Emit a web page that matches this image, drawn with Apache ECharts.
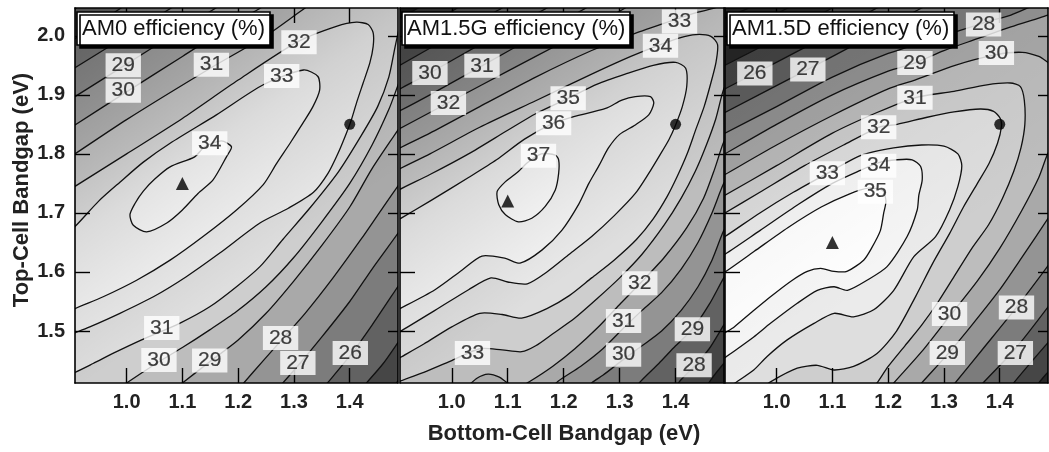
<!DOCTYPE html>
<html>
<head>
<meta charset="utf-8">
<script src="https://cdn.jsdelivr.net/npm/echarts@6/dist/echarts.min.js"></script>
<style>
  html, body { margin: 0; padding: 0; background: #fff; }
  #chart { width: 1049px; height: 452px; }
</style>
</head>
<body>
<div id="chart"></div>
<script>
// ---------- axes ----------
const xTicks = [1.0, 1.1, 1.2, 1.3, 1.4];
const yTicks = [1.5, 1.6, 1.7, 1.8, 1.9, 2.0];
const X_RANGE = [0.9075, 1.4865];
const Y_RANGE = [1.412, 2.047];

const panelTitles = ['AM0 efficiency (%)', 'AM1.5G efficiency (%)', 'AM1.5D efficiency (%)'];
const panelTags = ['(a)', '(b)', '(c)'];

// optimum-design markers (bottom-cell gap, top-cell gap), eV
const triangleMarks = [[1.1, 1.75], [1.1, 1.72], [1.1, 1.65]];
const circleMarks = [[1.4, 1.85], [1.4, 1.85], [1.4, 1.85]];

// ---------- (a) AM0 ----------
// each level: an "upper" branch (upper-left side, or the whole curve for loops / U shapes)
// and a "lower" branch (lower-right side); null = closed loop, [] = single open curve
const levelsA = [24, 25, 26, 27, 28, 29, 30, 31, 32, 33, 34];
const upperA = [
  [[0.86, 2.10], [0.90, 2.20]],
  [[0.86, 2.08], [0.90, 2.20]],
  [[0.88, 2.03], [0.9075, 2.045], [0.93, 2.065]],
  [[0.88, 1.98], [0.9075, 1.995], [0.99, 2.047], [1.02, 2.065]],
  [[0.88, 1.93], [0.9075, 1.946], [1.0, 2.0], [1.08, 2.047], [1.11, 2.065]],
  [[0.88, 1.88], [0.9075, 1.897], [0.99, 1.946], [1.08, 2.0], [1.16, 2.047], [1.19, 2.065]],
  [[0.88, 1.832], [0.9075, 1.849], [1.0, 1.905], [1.1, 1.965], [1.2, 2.025], [1.24, 2.047], [1.27, 2.065]],
  [[0.88, 1.783], [0.9075, 1.80], [1.0, 1.858], [1.15, 1.945], [1.25, 2.0], [1.32, 2.047], [1.35, 2.065]],
  [[0.88, 1.728], [0.9075, 1.745], [1.0, 1.80], [1.1, 1.86], [1.2, 1.925], [1.307, 1.99], [1.376, 2.016],
   [1.412, 2.023], [1.433, 2.019], [1.442, 2.005], [1.442, 1.982], [1.436, 1.954], [1.424, 1.920],
   [1.412, 1.886], [1.403, 1.858], [1.394, 1.835], [1.379, 1.801], [1.361, 1.767], [1.335, 1.735],
   [1.29, 1.708], [1.239, 1.683], [1.167, 1.632], [1.107, 1.592], [1.048, 1.558], [0.988, 1.530],
   [0.934, 1.507], [0.9075, 1.497], [0.88, 1.487]],
  [[0.88, 1.655], [0.9075, 1.677], [0.95, 1.72], [0.988, 1.752], [1.03, 1.786], [1.078, 1.818],
   [1.161, 1.866], [1.245, 1.917], [1.317, 1.942], [1.343, 1.931], [1.346, 1.908], [1.334, 1.880],
   [1.316, 1.852], [1.293, 1.818], [1.269, 1.784], [1.245, 1.748], [1.197, 1.705], [1.137, 1.660],
   [1.078, 1.620], [1.018, 1.586], [0.958, 1.558], [0.9075, 1.538], [0.88, 1.525]],
  [[1.122, 1.795], [1.078, 1.778], [1.05, 1.757], [1.03, 1.737], [1.015, 1.716], [1.006, 1.697],
   [1.012, 1.679], [1.036, 1.668], [1.072, 1.683], [1.10, 1.705], [1.128, 1.733], [1.155, 1.756],
   [1.179, 1.795], [1.188, 1.812], [1.17, 1.822], [1.14, 1.812]]
];
const lowerA = [
  [[1.465, 1.39], [1.478, 1.405], [1.486, 1.415], [1.50, 1.435]],
  [[1.41, 1.39], [1.43, 1.412], [1.46, 1.445], [1.486, 1.48], [1.50, 1.50]],
  [[1.34, 1.39], [1.36, 1.412], [1.402, 1.46], [1.44, 1.51], [1.486, 1.575], [1.50, 1.595]],
  [[1.26, 1.39], [1.28, 1.412], [1.308, 1.442], [1.35, 1.49], [1.40, 1.55], [1.44, 1.605], [1.486, 1.665], [1.50, 1.685]],
  [[1.19, 1.39], [1.21, 1.412], [1.245, 1.45], [1.276, 1.483], [1.32, 1.53], [1.37, 1.59], [1.42, 1.655],
   [1.46, 1.71], [1.486, 1.745], [1.50, 1.765]],
  [[1.07, 1.39], [1.10, 1.412], [1.149, 1.448], [1.20, 1.485], [1.25, 1.53], [1.30, 1.585], [1.35, 1.645],
   [1.40, 1.71], [1.44, 1.775], [1.486, 1.84], [1.50, 1.86]],
  [[0.96, 1.385], [1.0, 1.412], [1.058, 1.448], [1.10, 1.472], [1.149, 1.502], [1.197, 1.533], [1.25, 1.575],
   [1.30, 1.625], [1.35, 1.685], [1.40, 1.75], [1.44, 1.815], [1.47, 1.875], [1.486, 1.915], [1.50, 1.95]],
  [[0.88, 1.42], [0.9075, 1.43], [0.94, 1.445], [0.982, 1.465], [1.027, 1.485], [1.095, 1.513], [1.149, 1.541],
   [1.197, 1.575], [1.239, 1.609], [1.28, 1.655], [1.33, 1.71], [1.38, 1.77], [1.42, 1.83], [1.45, 1.88],
   [1.47, 1.93], [1.481, 1.98], [1.488, 2.01], [1.50, 2.05]],
  [],
  [],
  null
];
const labelsA = [
  [0.994, 1.950, 29], [0.994, 1.907, 30], [1.152, 1.951, 31], [1.309, 1.989, 32], [1.278, 1.932, 33],
  [1.149, 1.818, 34], [1.063, 1.505, 31], [1.058, 1.451, 30], [1.149, 1.450, 29], [1.276, 1.488, 28],
  [1.307, 1.446, 27], [1.401, 1.463, 26]
];

// ---------- (b) AM1.5G ----------
const levelsB = [27, 28, 29, 30, 31, 32, 33, 34, 35, 36, 37];
const upperB = [
  [[0.88, 2.02], [0.9075, 2.03], [0.94, 2.047], [0.97, 2.065]],
  [[0.88, 1.975], [0.9075, 1.99], [1.01, 2.047], [1.04, 2.065]],
  [[0.88, 1.935], [0.9075, 1.95], [1.0, 2.0], [1.09, 2.047], [1.12, 2.065]],
  [[0.88, 1.895], [0.9075, 1.91], [0.961, 1.937], [1.05, 1.985], [1.17, 2.047], [1.2, 2.065]],
  [[0.88, 1.86], [0.9075, 1.873], [0.961, 1.90], [1.054, 1.949], [1.15, 2.0], [1.24, 2.047], [1.27, 2.065]],
  [[0.88, 1.83], [0.9075, 1.843], [0.961, 1.87], [1.05, 1.915], [1.15, 1.965], [1.25, 2.015], [1.31, 2.047], [1.34, 2.065]],
  [[0.88, 1.795], [0.9075, 1.81], [0.961, 1.835], [1.05, 1.88], [1.15, 1.93], [1.25, 1.975], [1.33, 2.005],
   [1.407, 2.03], [1.44, 2.04], [1.47, 2.047], [1.50, 2.06]],
  [[0.88, 1.76], [0.9075, 1.775], [0.961, 1.80], [1.05, 1.845], [1.15, 1.89], [1.25, 1.935], [1.32, 1.965],
   [1.373, 1.985], [1.406, 1.996], [1.436, 2.002], [1.463, 1.999], [1.475, 1.985], [1.472, 1.954],
   [1.463, 1.92], [1.451, 1.88], [1.436, 1.841], [1.421, 1.801], [1.403, 1.762], [1.385, 1.728],
   [1.36, 1.69], [1.33, 1.655], [1.29, 1.62], [1.25, 1.59], [1.21, 1.56], [1.17, 1.538], [1.125, 1.522],
   [1.09, 1.528], [1.05, 1.53], [1.0, 1.507], [0.95, 1.478], [0.9075, 1.455], [0.88, 1.44]],
  [[0.88, 1.725], [0.9075, 1.74], [0.961, 1.765], [1.03, 1.80], [1.10, 1.84], [1.15, 1.868], [1.208, 1.894],
   [1.26, 1.918], [1.31, 1.935], [1.36, 1.95], [1.40, 1.955], [1.418, 1.945], [1.42, 1.915], [1.412, 1.88],
   [1.40, 1.849], [1.388, 1.824], [1.370, 1.795], [1.352, 1.767], [1.328, 1.733], [1.29, 1.695],
   [1.25, 1.66], [1.21, 1.63], [1.17, 1.60], [1.135, 1.58], [1.10, 1.583], [1.07, 1.59], [1.03, 1.57],
   [0.97, 1.535], [0.9075, 1.499], [0.88, 1.485]],
  [[0.88, 1.675], [0.9075, 1.69], [0.961, 1.72], [1.03, 1.76], [1.08, 1.79], [1.13, 1.825], [1.182, 1.852],
   [1.218, 1.863], [1.275, 1.877], [1.304, 1.891], [1.328, 1.897], [1.355, 1.897], [1.361, 1.886],
   [1.352, 1.866], [1.328, 1.849], [1.30, 1.833], [1.28, 1.81], [1.263, 1.78], [1.245, 1.75], [1.227, 1.715],
   [1.197, 1.671], [1.161, 1.637], [1.122, 1.615], [1.096, 1.623], [1.054, 1.627], [1.018, 1.603],
   [0.970, 1.570], [0.9075, 1.538], [0.88, 1.525]],
  [[1.119, 1.770], [1.096, 1.753], [1.081, 1.736], [1.084, 1.714], [1.096, 1.697], [1.119, 1.685],
   [1.143, 1.691], [1.167, 1.711], [1.185, 1.739], [1.191, 1.767], [1.191, 1.790], [1.185, 1.798],
   [1.16, 1.80], [1.135, 1.785]]
];
const lowerB = [
  [[1.45, 1.39], [1.455, 1.405], [1.465, 1.42], [1.486, 1.445], [1.50, 1.46]],
  [[1.39, 1.39], [1.40, 1.405], [1.41, 1.418], [1.433, 1.44], [1.46, 1.47], [1.486, 1.51], [1.50, 1.53]],
  [[1.32, 1.39], [1.335, 1.412], [1.37, 1.445], [1.40, 1.475], [1.43, 1.503], [1.46, 1.545], [1.486, 1.59], [1.50, 1.61]],
  [[1.23, 1.39], [1.25, 1.412], [1.27, 1.425], [1.307, 1.452], [1.34, 1.475], [1.375, 1.50], [1.41, 1.535],
   [1.44, 1.575], [1.465, 1.62], [1.486, 1.67], [1.50, 1.69]],
  [[1.16, 1.39], [1.19, 1.415], [1.23, 1.44], [1.27, 1.47], [1.307, 1.505], [1.34, 1.535], [1.375, 1.565],
   [1.41, 1.605], [1.44, 1.65], [1.465, 1.70], [1.486, 1.75], [1.50, 1.77]],
  [[0.98, 1.38], [1.02, 1.40], [1.045, 1.42], [1.065, 1.427], [1.085, 1.422], [1.10, 1.412], [1.12, 1.405],
   [1.14, 1.415], [1.18, 1.44], [1.22, 1.47], [1.26, 1.505], [1.30, 1.545], [1.336, 1.58], [1.38, 1.625],
   [1.42, 1.675], [1.45, 1.725], [1.47, 1.775], [1.486, 1.82], [1.50, 1.84]],
  [[0.88, 1.40], [0.9075, 1.415], [0.95, 1.43], [1.0, 1.45], [1.05, 1.47], [1.09, 1.468], [1.125, 1.465],
   [1.15, 1.475], [1.18, 1.495], [1.22, 1.522], [1.26, 1.555], [1.30, 1.59], [1.34, 1.63], [1.38, 1.68],
   [1.41, 1.725], [1.435, 1.77], [1.455, 1.815], [1.472, 1.86], [1.486, 1.91], [1.50, 1.935]],
  [],
  [],
  [],
  null
];
const labelsB = [
  [1.407, 2.024, 33], [1.373, 1.983, 34], [0.961, 1.937, 30], [1.054, 1.949, 31], [0.994, 1.886, 32],
  [1.208, 1.894, 35], [1.182, 1.852, 36], [1.155, 1.797, 37], [1.336, 1.581, 32], [1.307, 1.517, 31],
  [1.307, 1.460, 30], [1.430, 1.503, 29], [1.433, 1.442, 28], [1.037, 1.463, 33]
];

// ---------- (c) AM1.5D ----------
const levelsC = [23, 24, 25, 26, 27, 28, 29, 30, 31, 32, 33, 34, 35];
const upperC = [
  [[0.88, 2.015], [0.9075, 2.03], [0.95, 2.047], [0.98, 2.065]],
  [[0.88, 1.975], [0.9075, 1.99], [1.02, 2.047], [1.06, 2.065]],
  [[0.88, 1.935], [0.9075, 1.95], [1.0, 1.995], [1.10, 2.047], [1.14, 2.065]],
  [[0.88, 1.895], [0.9075, 1.91], [0.961, 1.936], [1.05, 1.98], [1.18, 2.047], [1.22, 2.065]],
  [[0.88, 1.855], [0.9075, 1.87], [1.056, 1.943], [1.15, 1.99], [1.26, 2.047], [1.30, 2.065]],
  [[0.88, 1.82], [0.9075, 1.835], [1.0, 1.88], [1.1, 1.93], [1.2, 1.97], [1.30, 2.0], [1.371, 2.022],
   [1.42, 2.035], [1.45, 2.047], [1.48, 2.06]],
  [[0.88, 1.785], [0.9075, 1.80], [1.0, 1.85], [1.1, 1.90], [1.2, 1.94], [1.248, 1.954], [1.30, 1.975],
   [1.36, 1.995], [1.42, 2.015], [1.47, 2.03], [1.486, 2.035], [1.50, 2.04]],
  [[0.88, 1.75], [0.9075, 1.765], [1.0, 1.815], [1.1, 1.865], [1.2, 1.91], [1.248, 1.925], [1.32, 1.95],
   [1.394, 1.968], [1.44, 1.972], [1.47, 1.965], [1.486, 1.955], [1.50, 1.945]],
  [[0.88, 1.715], [0.9075, 1.73], [1.0, 1.78], [1.10, 1.835], [1.18, 1.87], [1.248, 1.895], [1.318, 1.906],
   [1.377, 1.917], [1.419, 1.92], [1.437, 1.914], [1.444, 1.891], [1.445, 1.85], [1.438, 1.81], [1.425, 1.77],
   [1.405, 1.725], [1.38, 1.68], [1.35, 1.64], [1.32, 1.595], [1.29, 1.55], [1.26, 1.51], [1.23, 1.475],
   [1.20, 1.44], [1.18, 1.412], [1.165, 1.395]],
  [[0.88, 1.685], [0.9075, 1.70], [0.97, 1.735], [1.05, 1.78], [1.12, 1.815], [1.183, 1.845], [1.216, 1.85],
   [1.27, 1.862], [1.318, 1.871], [1.365, 1.876], [1.389, 1.872], [1.401, 1.86], [1.403, 1.846], [1.396, 1.818],
   [1.381, 1.784], [1.36, 1.750], [1.335, 1.71], [1.31, 1.665], [1.28, 1.615], [1.25, 1.56], [1.215, 1.50],
   [1.18, 1.462], [1.138, 1.440], [1.103, 1.434], [1.073, 1.442], [1.037, 1.437], [0.989, 1.414], [0.96, 1.395]],
  [[0.88, 1.645], [0.9075, 1.66], [0.97, 1.70], [1.03, 1.735], [1.091, 1.767], [1.15, 1.797], [1.21, 1.81],
   [1.26, 1.815], [1.30, 1.813], [1.325, 1.80], [1.332, 1.78], [1.325, 1.745], [1.31, 1.705], [1.285, 1.66],
   [1.246, 1.626], [1.210, 1.569], [1.174, 1.536], [1.138, 1.524], [1.103, 1.530], [1.067, 1.513],
   [1.019, 1.485], [0.983, 1.457], [0.959, 1.434], [0.93, 1.415], [0.9075, 1.40], [0.88, 1.385]],
  [[0.88, 1.615], [0.9075, 1.63], [0.97, 1.67], [1.04, 1.715], [1.10, 1.75], [1.15, 1.772], [1.183, 1.785],
   [1.216, 1.79], [1.243, 1.79], [1.258, 1.779], [1.261, 1.756], [1.255, 1.73], [1.252, 1.705], [1.234, 1.660],
   [1.198, 1.609], [1.162, 1.586], [1.127, 1.569], [1.103, 1.575], [1.073, 1.569], [1.037, 1.547],
   [0.989, 1.513], [0.959, 1.490], [0.918, 1.462], [0.9075, 1.455], [0.88, 1.44]],
  [[0.88, 1.585], [0.9075, 1.60], [0.96, 1.635], [1.02, 1.675], [1.08, 1.71], [1.13, 1.732], [1.165, 1.742],
   [1.19, 1.738], [1.196, 1.72], [1.192, 1.70], [1.186, 1.67], [1.17, 1.64], [1.156, 1.620], [1.126, 1.601],
   [1.103, 1.601], [1.079, 1.606], [1.055, 1.601], [1.025, 1.584], [0.989, 1.558], [0.953, 1.530],
   [0.924, 1.507], [0.9075, 1.497], [0.88, 1.48]]
];
const lowerC = [
  [[1.50, 1.375], [1.52, 1.39]],
  [[1.49, 1.39], [1.50, 1.40]],
  [[1.455, 1.39], [1.47, 1.412], [1.486, 1.43], [1.50, 1.445]],
  [[1.41, 1.39], [1.425, 1.412], [1.486, 1.48], [1.50, 1.495]],
  [[1.35, 1.39], [1.37, 1.412], [1.428, 1.47], [1.486, 1.54], [1.50, 1.56]],
  [[1.30, 1.39], [1.32, 1.412], [1.37, 1.47], [1.43, 1.54], [1.486, 1.61], [1.50, 1.63]],
  [[1.24, 1.39], [1.26, 1.412], [1.306, 1.46], [1.35, 1.51], [1.40, 1.57], [1.44, 1.625], [1.486, 1.69], [1.50, 1.71]],
  [[1.19, 1.39], [1.21, 1.412], [1.26, 1.465], [1.31, 1.525], [1.36, 1.585], [1.40, 1.64], [1.44, 1.705],
   [1.47, 1.76], [1.486, 1.80], [1.50, 1.82]],
  [], [], [], [], []
];
const labelsC = [
  [1.371, 2.019, 28], [1.394, 1.971, 30], [1.248, 1.954, 29], [0.961, 1.936, 26], [1.056, 1.943, 27],
  [1.248, 1.895, 31], [1.183, 1.845, 32], [1.091, 1.767, 33], [1.183, 1.780, 34], [1.177, 1.736, 35],
  [1.310, 1.529, 30], [1.430, 1.540, 28], [1.306, 1.463, 29], [1.428, 1.463, 27]
];

// ---------- drawing ----------
const FONT = '"Liberation Sans", Arial, Helvetica, sans-serif';
const FAR_TR = [1.62, 2.2];   // outside the frame, closes regions around the top-right
const FAR_BL = [0.84, 1.36];  // outside the frame, closes regions around the bottom-left

const panels = [
  { levels: levelsA, upper: upperA, lower: lowerA, labels: labelsA, shade: 0.36, left: 75, width: 323 },
  { levels: levelsB, upper: upperB, lower: lowerB, labels: labelsB, shade: 0.36, left: 400, width: 324 },
  { levels: levelsC, upper: upperC, lower: lowerC, labels: labelsC, shade: 0.12, left: 725, width: 323 }
];
const GRID_TOP = 8, GRID_H = 375;

// grey tone of the band just above a level, by its distance below the panel's top level
function gray(d) {
  const g = Math.max(38, Math.round(255 - 8 * d - 1.05 * d * d));
  return 'rgb(' + g + ',' + g + ',' + g + ')';
}

function regionOf(upper, lower) {
  if (lower === null) return upper;
  if (lower.length === 0) return upper.concat([FAR_BL]);
  return upper.concat([FAR_TR], lower.slice().reverse(), [FAR_BL]);
}

const grid = [], xAxis = [], yAxis = [], series = [];

panels.forEach((p, i) => {
  grid.push({ left: p.left, top: GRID_TOP, width: p.width, height: GRID_H, containLabel: false });

  const lineStyle = { color: '#000', width: 1.6 };
  const tickStyle = { color: '#000', width: 1.4 };
  xAxis.push({
    gridIndex: i, type: 'value', position: 'bottom', min: X_RANGE[0], max: X_RANGE[1], z: 10,
    axisLine: { show: true, onZero: false, lineStyle },
    axisTick: { show: true, inside: true, length: 15, customValues: xTicks, lineStyle: tickStyle },
    axisLabel: { show: true, customValues: xTicks, formatter: v => v.toFixed(1), margin: 9,
      fontSize: 20, fontWeight: 'bold', color: '#222', fontFamily: FONT },
    splitLine: { show: false }
  }, {
    gridIndex: i, type: 'value', position: 'top', min: X_RANGE[0], max: X_RANGE[1], z: 10,
    axisLine: { show: true, onZero: false, lineStyle },
    axisTick: { show: true, inside: true, length: 15, customValues: xTicks, lineStyle: tickStyle },
    axisLabel: { show: false },
    splitLine: { show: false }
  });
  yAxis.push({
    gridIndex: i, type: 'value', position: 'left', min: Y_RANGE[0], max: Y_RANGE[1], z: 10,
    axisLine: { show: true, onZero: false, lineStyle },
    axisTick: { show: true, inside: true, length: 15, customValues: yTicks, lineStyle: tickStyle },
    axisLabel: { show: i === 0, customValues: yTicks, formatter: v => v.toFixed(1), margin: 10,
      fontSize: 20, fontWeight: 'bold', color: '#222', fontFamily: FONT },
    splitLine: { show: false }
  }, {
    gridIndex: i, type: 'value', position: 'right', min: Y_RANGE[0], max: Y_RANGE[1], z: 10,
    axisLine: { show: true, onZero: false, lineStyle },
    axisTick: { show: true, inside: true, length: 10, customValues: yTicks, lineStyle: tickStyle },
    axisLabel: { show: false },
    splitLine: { show: false }
  });

  const regions = p.upper.map((u, k) => regionOf(u, p.lower[k]));
  const topLevel = p.levels[p.levels.length - 1];
  const baseTone = gray(topLevel - p.levels[0] + 1);

  // filled bands + contour lines, clipped to the frame
  series.push({
    type: 'custom', xAxisIndex: 2 * i, yAxisIndex: 2 * i, silent: true, z: 2, clip: true,
    data: [[0]],
    renderItem(params, api) {
      const cs = params.coordSys;
      const frame = { x: cs.x, y: cs.y, width: cs.width, height: cs.height };
      const shapes = regions.map(r => r.map(pt => api.coord(pt)));
      const kids = [{ type: 'rect', shape: frame, style: { fill: baseTone } }];
      shapes.forEach((pts, k) => kids.push({
        type: 'polygon', shape: { points: pts, smooth: 0.25 },
        style: { fill: gray(topLevel - p.levels[k]), stroke: 'none' }
      }));
      kids.push({
        type: 'rect', shape: frame,
        style: { fill: { type: 'linear', x: 0, y: 0, x2: 0.55, y2: 0.7, colorStops: [
          { offset: 0, color: 'rgba(0,0,0,' + p.shade + ')' },
          { offset: 0.6, color: 'rgba(0,0,0,' + (p.shade * 0.3) + ')' },
          { offset: 1, color: 'rgba(0,0,0,0)' }] } }
      });
      shapes.forEach(pts => kids.push({
        type: 'polygon', shape: { points: pts, smooth: 0.25 },
        style: { fill: 'none', stroke: '#111', lineWidth: 1.3 }
      }));
      return { type: 'group', clipPath: { type: 'rect', shape: frame }, children: kids };
    }
  });

  // contour level labels
  series.push({
    type: 'scatter', xAxisIndex: 2 * i, yAxisIndex: 2 * i, silent: true, z: 12,
    symbolSize: 0, data: p.labels,
    label: { show: true, position: 'inside', formatter: q => String(q.value[2]),
      backgroundColor: '#fff', padding: [2, 6, 1, 6], fontSize: 21, color: '#111',
      textBorderColor: '#111', textBorderWidth: 0.2, fontFamily: FONT }
  });
  // optimum markers
  series.push({
    type: 'scatter', xAxisIndex: 2 * i, yAxisIndex: 2 * i, silent: true, z: 13,
    symbol: 'triangle', symbolSize: 13, itemStyle: { color: '#000' }, data: [triangleMarks[i]]
  });
  series.push({
    type: 'scatter', xAxisIndex: 2 * i, yAxisIndex: 2 * i, silent: true, z: 13,
    symbol: 'circle', symbolSize: 11, itemStyle: { color: '#000' }, data: [circleMarks[i]]
  });
});

const title = panels.map((p, i) => ({
  text: panelTitles[i], left: p.left + 2, top: 12, z: 20,
  padding: [6, 5, 5, 5], backgroundColor: '#fff', borderColor: '#000', borderWidth: 1.6,
  shadowColor: '#000', shadowOffsetX: 3, shadowOffsetY: 3, shadowBlur: 0,
  textStyle: { fontSize: 22, fontWeight: 'normal', color: '#111', fontFamily: FONT }
}));

const graphic = [
  { type: 'text', x: 564, y: 434, z: 20,
    style: { text: 'Bottom-Cell Bandgap (eV)', font: 'bold 22px ' + FONT, fill: '#222',
      textAlign: 'center', textVerticalAlign: 'middle', align: 'center', verticalAlign: 'middle' } },
  { type: 'text', x: 22, y: 190, rotation: Math.PI / 2, z: 20,
    style: { text: 'Top-Cell Bandgap (eV)', font: 'bold 22px ' + FONT, fill: '#222',
      textAlign: 'center', textVerticalAlign: 'middle', align: 'center', verticalAlign: 'middle' } }
];
panels.forEach((p, i) => {
  const bx = p.left + 3, by = 340;
  graphic.push({
    type: 'group', x: bx, y: by, z: 20, children: [
      { type: 'rect', shape: { x: 0, y: 0, width: 37, height: 37 }, style: { fill: '#fff', stroke: '#000', lineWidth: 1.6 } },
      { type: 'rect', shape: { x: 3, y: 3, width: 31, height: 31 }, style: { fill: 'none', stroke: '#000', lineWidth: 1.2 } },
      { type: 'text', x: 18.5, y: 18.5, style: { text: panelTags[i], font: '21px ' + FONT, fill: '#222',
          textAlign: 'center', textVerticalAlign: 'middle', align: 'center', verticalAlign: 'middle' } }
    ]
  });
});

const chart = echarts.init(document.getElementById('chart'), null, { renderer: 'canvas' });
chart.setOption({ animation: false, backgroundColor: '#fff', title, grid, xAxis, yAxis, series, graphic });
</script>
</body>
</html>
